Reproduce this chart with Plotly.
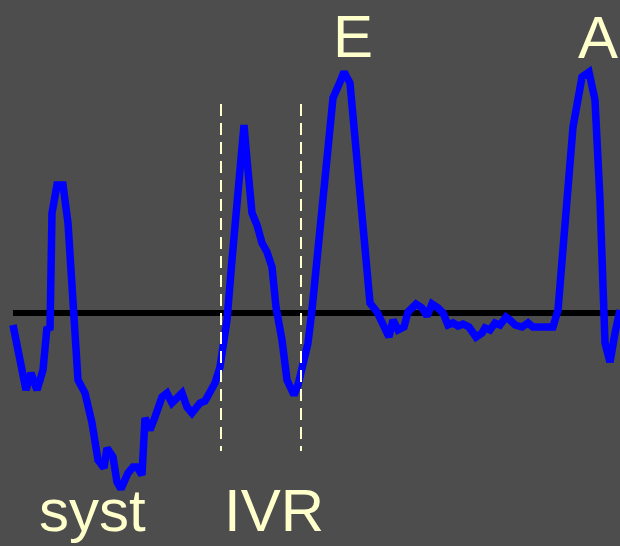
import plotly.graph_objects as go

# Doppler-style flow velocity trace (time in px units, velocity relative to baseline)
time = [13, 20, 26, 31, 37, 43, 47, 50, 52, 57, 63, 68, 73, 78, 85, 92, 98, 104, 107, 113,
        117, 121, 128, 133, 137, 142, 145, 150, 155, 162, 167, 172, 182, 187, 192, 196, 200, 205,
        210, 215, 220, 223, 227, 232, 237, 241, 244, 247, 252, 257, 262, 267, 272, 276, 282,
        287, 294, 298, 304, 308, 312, 317, 323, 328, 333, 340, 344, 350, 355, 360, 365, 370,
        377, 383, 389, 393, 398, 404, 408, 416, 422, 427, 432, 438, 443, 448, 453, 458, 463,
        469, 476, 482, 485, 490, 495, 500, 506, 510, 515, 522, 528, 533, 553, 558, 565, 573,
        582, 589, 595, 600, 605, 610, 615, 620]
ypix = [325, 357, 390, 373, 390, 370, 327, 330, 213, 185, 185, 223, 303, 380, 393, 423, 460,
        468, 448, 457, 482, 489, 473, 467, 467, 475, 418, 430, 417, 397, 393, 403, 393, 407,
        413, 409, 403, 401, 390, 383, 367, 343, 320, 260, 200, 160, 125, 160, 213, 225, 243,
        252, 267, 307, 340, 380, 395, 385, 360, 343, 310, 260, 203, 160, 98, 82, 72, 83, 140,
        200, 253, 303, 312, 323, 337, 320, 330, 327, 312, 304, 308, 316, 304, 308, 313, 325,
        323, 326, 324, 327, 337, 333, 328, 330, 323, 325, 317, 320, 325, 327, 323, 327, 327,
        310, 217, 127, 77, 72, 100, 200, 343, 362, 333, 310]
BASE = 313
velocity = [BASE - y for y in ypix]

ivr_bounds = [221, 301]
labels = [("E", 353, 59), ("A", 598, 60), ("syst", 92, 533), ("IVR", 274, 533)]

fig = go.Figure()
fig.add_trace(go.Scatter(x=time, y=velocity, mode="lines",
                         line=dict(color="#0000ff", width=7.5),
                         hoverinfo="skip"))

# zero-velocity baseline
fig.add_shape(type="line", x0=13, x1=620, y0=0, y1=0, xref="x", yref="y",
              line=dict(color="black", width=6), layer="below")

# isovolumic relaxation markers
for xb in ivr_bounds:
    fig.add_shape(type="line", x0=xb, x1=xb, y0=BASE - 104, y1=BASE - 451,
                  xref="x", yref="y",
                  line=dict(color="#ffffcc", width=2, dash="12px,7px"))

for txt, xc, base in labels:
    fig.add_annotation(x=xc, y=BASE - base, xref="x", yref="y", text=txt,
                       showarrow=False, xanchor="center", yanchor="bottom",
                       yshift=-13,
                       font=dict(family="Liberation Sans, Arial", size=60, color="#ffffcc"))

fig.update_layout(
    width=620, height=546,
    margin=dict(l=0, r=0, t=0, b=0),
    paper_bgcolor="#4d4d4d", plot_bgcolor="#4d4d4d",
    showlegend=False,
    xaxis=dict(range=[0, 620], visible=False, fixedrange=True),
    yaxis=dict(range=[BASE - 546, BASE], visible=False, fixedrange=True),
)

fig.write_html("out.html")
